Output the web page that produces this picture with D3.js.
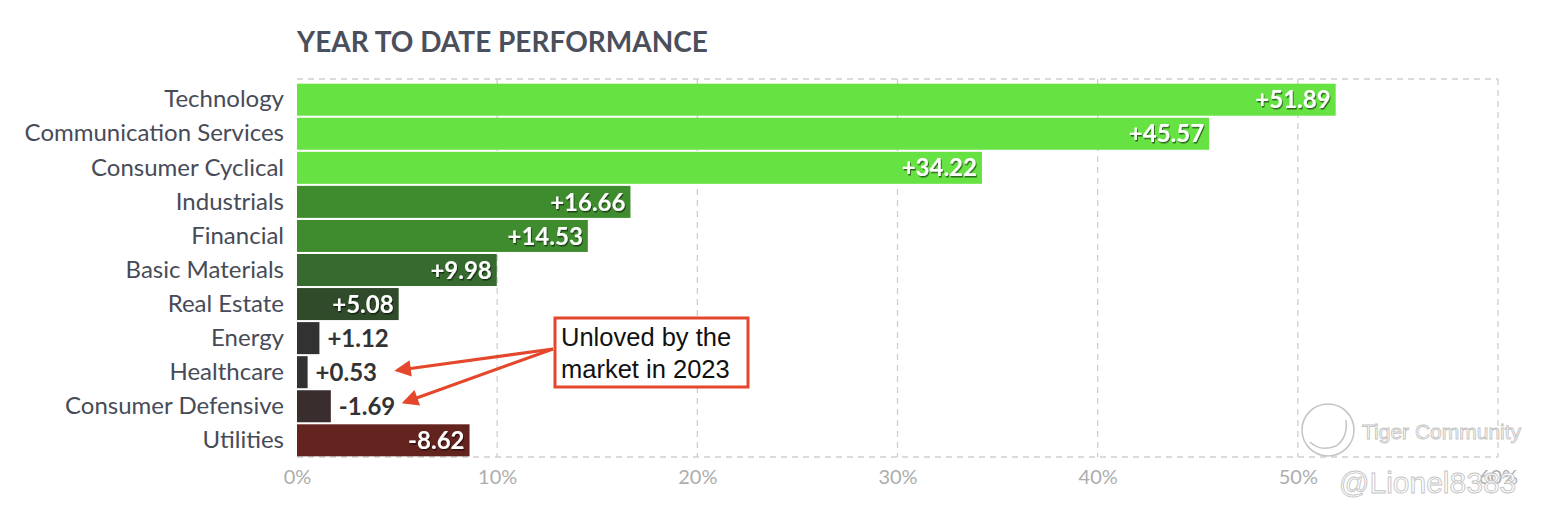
<!DOCTYPE html>
<html><head><meta charset="utf-8">
<script src="https://cdn.jsdelivr.net/npm/d3@7"></script>
<style>
html,body{margin:0;padding:0;background:#fff;}
svg{display:block;font-family:Lato,"Noto Sans",sans-serif;}
</style></head>
<body><svg id="chart" width="1552" height="518"></svg>
<script>
const categories = ["Technology","Communication Services","Consumer Cyclical","Industrials","Financial","Basic Materials","Real Estate","Energy","Healthcare","Consumer Defensive","Utilities"];
const values = [51.89,45.57,34.22,16.66,14.53,9.98,5.08,1.12,0.53,-1.69,-8.62];
const tickValues = [0,10,20,30,40,50,60];
const titleText = "YEAR TO DATE PERFORMANCE";
const noteLines = ["Unloved by the","market in 2023"];
const noteTargets = ["Healthcare","Consumer Defensive"];

const svg = d3.select("#chart");
const L = 297, R = 1498, T = 79, B = 457;
const x = d3.scaleLinear().domain([0,60]).range([L,R]);
const y = d3.scaleBand().domain(categories).range([83,457]).paddingInner(0.06).paddingOuter(0.02);

const color = v => {
  if (v < -5) return "#63231f";
  if (v < 0) return "#3a2d2d";
  if (v < 2) return "#323232";
  if (v < 7) return "#2f4b2a";
  if (v < 12) return "#366a2e";
  if (v < 25) return "#3f8c2f";
  return "#66e243";
};

// title
svg.append("text").attr("x",297).attr("y",52).attr("font-size",28).attr("font-weight",700)
  .attr("fill","#4b4f5b").text(titleText);

// grid
const grid = svg.append("g").attr("stroke","#cfcfcf").attr("stroke-width",1.3).attr("stroke-dasharray","6,5").attr("fill","none");
grid.selectAll("line.v").data(tickValues.slice(1)).join("line")
  .attr("x1",d=>x(d)).attr("x2",d=>x(d)).attr("y1",T).attr("y2",B);
grid.append("line").attr("x1",L).attr("x2",R).attr("y1",T).attr("y2",T);
grid.append("line").attr("x1",L).attr("x2",R).attr("y1",B).attr("y2",B);

// x axis
const xAxis = d3.axisBottom(x).tickValues(tickValues).tickFormat(d=>d+"%").tickSize(0).tickPadding(0);
const ax = svg.append("g").attr("transform",`translate(0,${B})`).call(xAxis);
ax.select(".domain").remove();
ax.selectAll("text").attr("font-size",20).attr("fill","#adadad").attr("font-family","Lato,sans-serif").attr("dy","0").attr("y",27);

// y axis labels
const yAxis = d3.axisLeft(y).tickSize(0).tickPadding(13);
const ay = svg.append("g").attr("transform",`translate(${L},0)`).call(yAxis);
ay.select(".domain").remove();
ay.selectAll("text").attr("font-size",24).attr("fill","#474b57").attr("font-family","Lato,sans-serif");

// shadow filter
const defs = svg.append("defs");
const f = defs.append("filter").attr("id","sh").attr("x","-10%").attr("y","-30%").attr("width","130%").attr("height","160%");
f.append("feDropShadow").attr("dx",1).attr("dy",1.5).attr("stdDeviation",0.6).attr("flood-color","#000").attr("flood-opacity",0.55);

// bars
const data = categories.map((c,i)=>({c, v: values[i]}));
svg.append("g").selectAll("rect").data(data).join("rect")
  .attr("x",x(0)).attr("y",d=>y(d.c)).attr("width",d=>x(Math.abs(d.v))-x(0)).attr("height",y.bandwidth())
  .attr("fill",d=>color(d.v));

const fmt = v => (v>0?"+":"") + v.toFixed(2);
const lab = svg.append("g").attr("font-size",24).attr("font-weight",700);
lab.selectAll("text").data(data).join("text")
  .each(function(d){
    const w = x(Math.abs(d.v))-x(0);
    const inside = w > 80;
    d3.select(this)
      .attr("x", inside ? x(Math.abs(d.v))-5 : x(Math.abs(d.v))+8)
      .attr("y", y(d.c)+y.bandwidth()/2)
      .attr("dy","0.36em")
      .attr("text-anchor", inside ? "end" : "start")
      .attr("fill", inside ? "#fff" : "#333")
      .attr("filter", inside ? "url(#sh)" : null)
      .text(fmt(d.v));
  });

// annotation
const red = "#e4472b";
const bx = 555, by = 318, bw = 193, bh = 69;
svg.append("rect").attr("x",bx).attr("y",by).attr("width",bw).attr("height",bh)
  .attr("fill","#fff").attr("stroke",red).attr("stroke-width",3);
const nt = svg.append("text").attr("font-family","'Liberation Sans',Arial,sans-serif").attr("font-size",25.5).attr("fill","#111");
noteLines.forEach((t,i)=>nt.append("tspan").attr("x",bx+6).attr("y",by+28+i*32).text(t));

defs.append("marker").attr("id","ah").attr("viewBox","0 0 10 10").attr("refX",8).attr("refY",5)
  .attr("markerWidth",6.5).attr("markerHeight",5.5).attr("orient","auto").attr("markerUnits","strokeWidth")
  .append("path").attr("d","M0,0 L10,5 L0,10 z").attr("fill",red);
const sx = bx-2, sy = by+31;
const offs = [90, 74];
noteTargets.forEach((c,i)=>{
  const v = values[categories.indexOf(c)];
  const ex = x(Math.abs(v)) + offs[i];
  const ey = y(c)+y.bandwidth()/2 + (i===0?-2:-4);
  svg.append("line").attr("x1",sx).attr("y1",sy).attr("x2",ex).attr("y2",ey)
    .attr("stroke",red).attr("stroke-width",3).attr("marker-end","url(#ah)");
});

// watermark
const wm = svg.append("g").attr("fill","#fff").attr("stroke","#c4c4c4").attr("stroke-width",0.9);
wm.append("circle").attr("cx",1328).attr("cy",430).attr("r",26).attr("fill","none").attr("stroke-width",1.5);
wm.append("path").attr("d","M1310,442 Q1320,452 1336,446 Q1348,438 1346,420").attr("fill","none").attr("stroke-width",1.5);
wm.append("text").attr("x",1362).attr("y",439).attr("font-family","'Liberation Sans',Arial,sans-serif").attr("font-size",21).text("Tiger Community");
wm.append("text").attr("x",1339).attr("y",493).attr("font-family","'Liberation Sans',Arial,sans-serif").attr("font-size",30).text("@Lionel8383");
</script></body></html>
